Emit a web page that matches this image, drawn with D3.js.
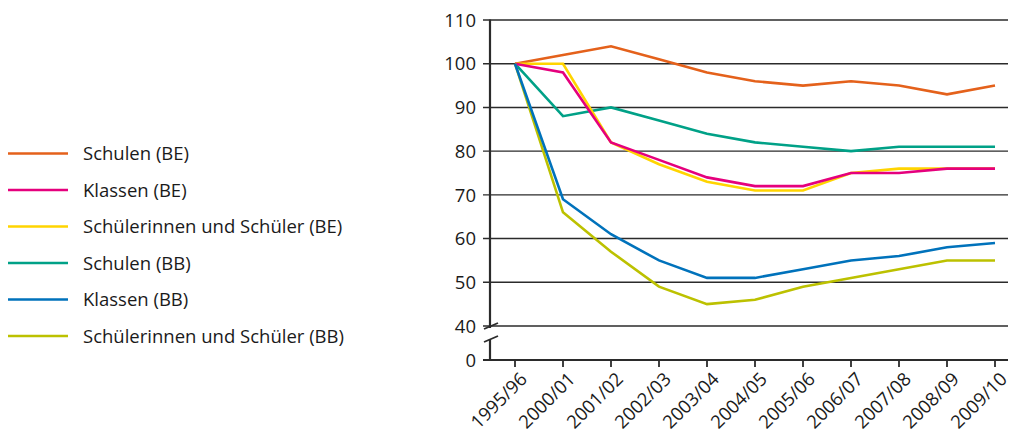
<!DOCTYPE html>
<html><head><meta charset="utf-8">
<script src="https://cdn.jsdelivr.net/npm/d3@7"></script>
<style>body{margin:0;background:#fff}svg{display:block}text{font-family:"Open Sans","Noto Sans",sans-serif;fill:#1a1a1a}</style>
</head><body><svg id="c" width="1011" height="430"></svg>
<script>
const categories = ["1995/96","2000/01","2001/02","2002/03","2003/04","2004/05","2005/06","2006/07","2007/08","2008/09","2009/10"];
const yTicks = [0,40,50,60,70,80,90,100,110];
const seriesNames = ["Schulen (BE)","Klassen (BE)","Schülerinnen und Schüler (BE)","Schulen (BB)","Klassen (BB)","Schülerinnen und Schüler (BB)"];
const seriesColors = ["#e4611b","#e5007d","#ffd400","#00a187","#0072bb","#bcc100"];
const schulenBE = [100,102,104,101,98,96,95,96,95,93,95];
const klassenBE = [100,98,82,78,74,72,72,75,75,76,76];
const schuelerBE = [100,100,82,77,73,71,71,75,76,76,76];
const schulenBB = [100,88,90,87,84,82,81,80,81,81,81];
const klassenBB = [100,69,61,55,51,51,53,55,56,58,59];
const schuelerBB = [100,66,57,49,45,46,49,51,53,55,55];
const seriesValues = [schulenBE,klassenBE,schuelerBE,schulenBB,klassenBB,schuelerBB];
const drawOrder = [0,3,2,1,5,4];

const svg = d3.select("#c");
const x = d3.scalePoint().domain(categories).range([515,995]);
const y = d3.scaleLinear().domain([0,40,110]).range([360,326,20]);
const axisColor = "#2b2b2b";

// gridlines
svg.append("g").selectAll("line").data(yTicks.filter(d=>d>=40)).join("line")
  .attr("x1",483).attr("x2",1008).attr("y1",d=>y(d)).attr("y2",d=>y(d))
  .attr("stroke",axisColor).attr("stroke-width",1.4);
// zero tick
svg.append("line").attr("x1",483).attr("x2",490).attr("y1",y(0)).attr("y2",y(0)).attr("stroke",axisColor).attr("stroke-width",2);
// x baseline
svg.append("line").attr("x1",489).attr("x2",1008).attr("y1",y(0)).attr("y2",y(0)).attr("stroke",axisColor).attr("stroke-width",2.2);
// y axis line with break
svg.append("line").attr("x1",490).attr("x2",490).attr("y1",y(110)-0.5).attr("y2",y(40)+2).attr("stroke",axisColor).attr("stroke-width",2.2);
svg.append("line").attr("x1",490).attr("x2",490).attr("y1",y(0)-21).attr("y2",y(0)+1).attr("stroke",axisColor).attr("stroke-width",2.2);
svg.append("line").attr("x1",484).attr("x2",498).attr("y1",y(40)+3).attr("y2",y(40)-3).attr("stroke",axisColor).attr("stroke-width",1.8);
svg.append("line").attr("x1",484).attr("x2",498).attr("y1",y(0)-18).attr("y2",y(0)-24).attr("stroke",axisColor).attr("stroke-width",1.8);

// y labels
svg.append("g").selectAll("text").data(yTicks).join("text")
  .attr("x",476).attr("y",d=>y(d)).attr("dy","0.36em").attr("text-anchor","end")
  .attr("font-size",18.5).text(d=>d);

// x ticks
svg.append("g").selectAll("line").data(categories).join("line")
  .attr("x1",d=>x(d)).attr("x2",d=>x(d)).attr("y1",y(0)).attr("y2",y(0)+7)
  .attr("stroke",axisColor).attr("stroke-width",1.8);
svg.append("g").selectAll("text").data(categories).join("text")
  .attr("transform",d=>`translate(${x(d)+4},${y(0)+11}) rotate(-45)`)
  .attr("text-anchor","end").attr("dy","0.7em").attr("font-size",18.5).text(d=>d);

// lines
const line = d3.line().x((d,i)=>x(categories[i])).y(d=>y(d));
svg.append("g").selectAll("path").data(drawOrder).join("path")
  .attr("d",i=>line(seriesValues[i])).attr("fill","none")
  .attr("stroke",i=>seriesColors[i]).attr("stroke-width",2.6).attr("stroke-linejoin","miter");

// legend
const lg = svg.append("g").selectAll("g").data(seriesNames).join("g")
  .attr("transform",(d,i)=>`translate(0,${153.5+i*36.5})`);
lg.append("line").attr("x1",8).attr("x2",68).attr("stroke",(d,i)=>seriesColors[i]).attr("stroke-width",2.6);
lg.append("text").attr("x",83).attr("dy","0.36em").attr("font-size",18.5).text(d=>d);
</script></body></html>
